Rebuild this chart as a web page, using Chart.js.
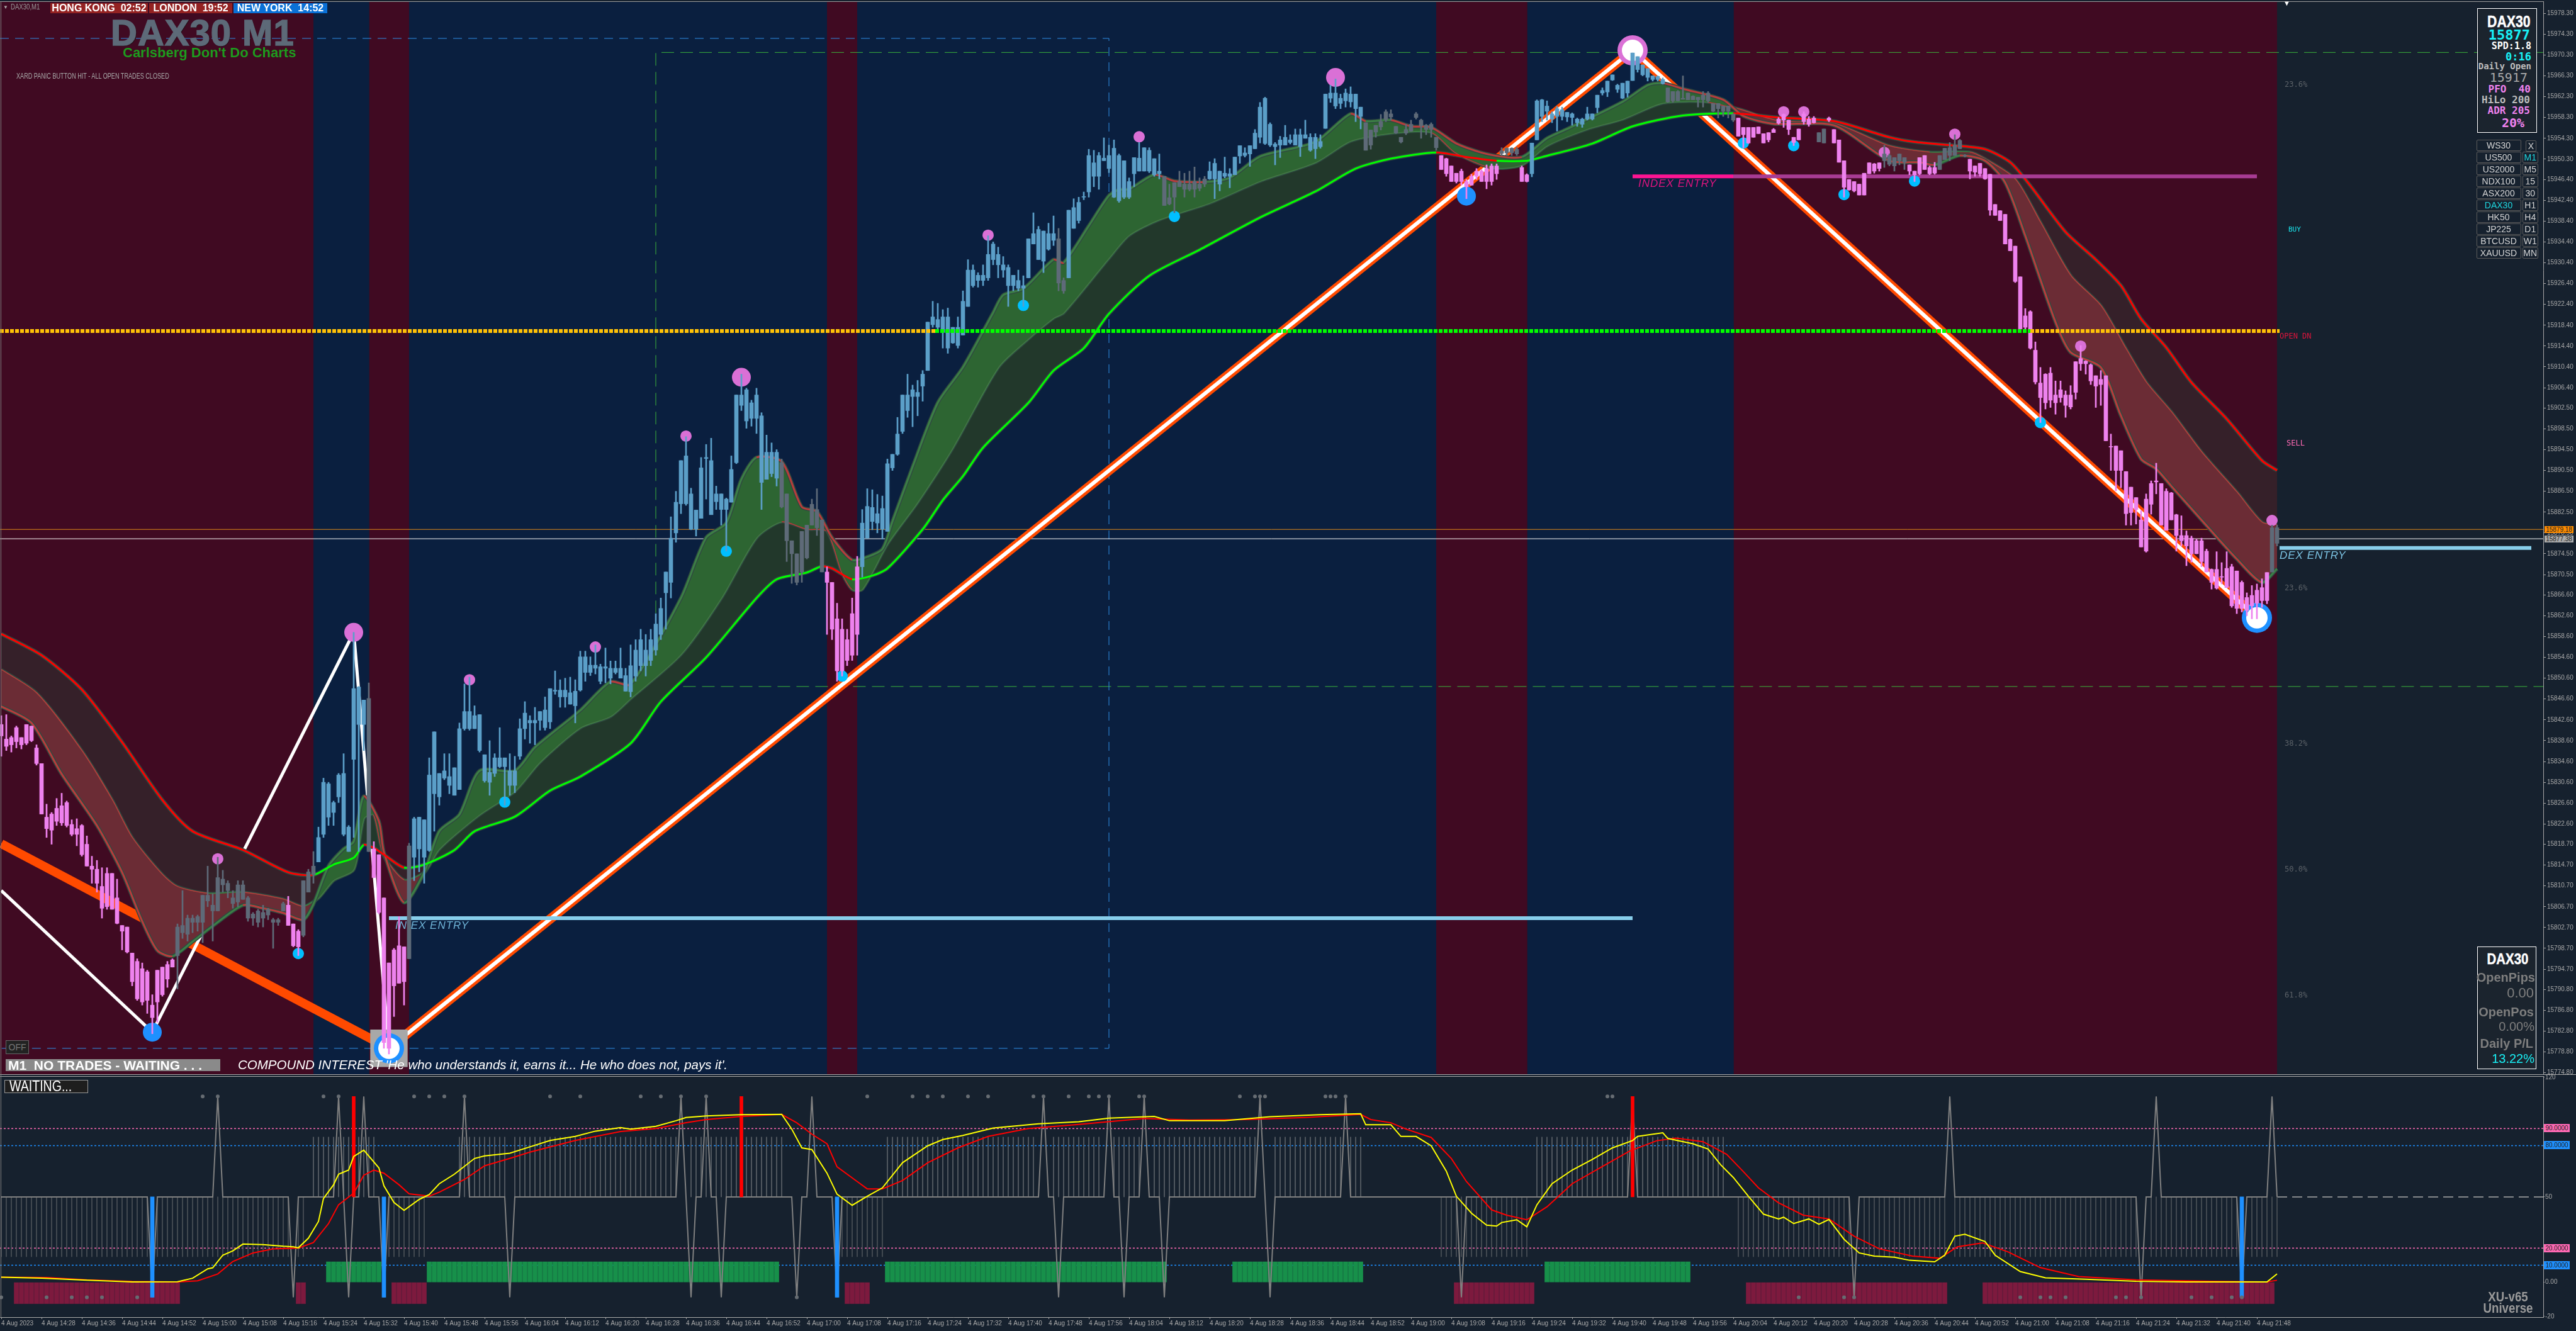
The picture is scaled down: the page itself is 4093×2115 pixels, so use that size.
<!DOCTYPE html>
<html>
<head>
<meta charset="utf-8">
<title>DAX30 M1</title>
<script src="https://cdn.jsdelivr.net/npm/chart.js@4"></script>
<style>
  html, body { margin: 0; width: 4093px; height: 2115px; background: #16212e; overflow: hidden; }
  canvas { position: absolute; left: 0; }
  #mainChart { top: 0; }
  #subChart { top: 1708px; }
  .t { position: absolute; white-space: nowrap; font-family: "Liberation Sans", sans-serif; line-height: 1; z-index: 5; }
  .mono { font-family: "DejaVu Sans Mono", monospace; font-weight: bold; text-align: right; }
  .narrow { font-family: "Liberation Sans", sans-serif; }
  .pct { font-family: "DejaVu Sans Mono", monospace; font-size: 12px; color: #5c6268; }
  .box { position: absolute; box-sizing: border-box; z-index: 4; }
  .btn { position: absolute; box-sizing: border-box; height: 18px; border: 1px solid #5c5c5c; border-radius: 2px; z-index: 5;
         color: #d4d4d4; font: 14px/16px "Liberation Sans", sans-serif; text-align: center; }
  .tag { position: absolute; left: 4042px; width: 41px; height: 13px; z-index: 5; color: #222; text-align: center;
         font: 10px/13px "Liberation Sans", sans-serif; }
</style>
</head>
<body>
<canvas id="mainChart" width="4093" height="1708"></canvas>
<canvas id="subChart" width="4093" height="407"></canvas>

<div class="box" style="left:0;top:2px;width:4042px;height:1px;background:#9a9a9a"></div>
<div class="box" style="left:0;top:1707px;width:4093px;height:1px;background:#a8a8a8"></div>
<div class="box" style="left:0;top:1710px;width:4042px;height:1px;background:#a8a8a8"></div>
<div class="box" style="left:1px;top:2px;width:1px;height:2092px;background:#7a7a7a"></div>

<!-- header -->
<div class="t" style="left:5px;top:8px;font-size:8px;color:#aaa">&#9660;</div>
<div class="t narrow" style="left:17px;top:5px;font-size:12px;color:#999;transform:scaleX(.8);transform-origin:left">DAX30,M1</div>
<div class="t narrow" style="left:80px;top:5px;width:155px;height:16px;background:#942222;color:#fff;font-weight:bold;font-size:16px;line-height:16px;text-align:center">HONG KONG&nbsp; 02:52</div>
<div class="t narrow" style="left:237px;top:5px;width:132px;height:16px;background:#942222;color:#fff;font-weight:bold;font-size:16px;line-height:16px;text-align:center">LONDON&nbsp; 19:52</div>
<div class="t narrow" style="left:371px;top:5px;width:149px;height:16px;background:#0a70d6;color:#fff;font-weight:bold;font-size:16px;line-height:16px;text-align:center">NEW YORK&nbsp; 14:52</div>
<div class="t" style="left:176px;top:23px;font-size:58px;font-weight:bold;letter-spacing:1px;color:#5d6a78;-webkit-text-stroke:1.5px #5d6a78;text-shadow:1px 1px 1px #111">DAX30 M1</div>
<div class="t" style="left:195px;top:73px;font-size:22px;font-weight:bold;color:#1e9c1e">Carlsberg Don't Do Charts</div>
<div class="t narrow" style="left:26px;top:114px;font-size:13px;color:#a8a8a8;transform:scaleX(.7);transform-origin:left">XARD PANIC BUTTON HIT - ALL OPEN TRADES CLOSED</div>
<div class="t" style="left:3628px;top:0;font-size:11px;color:#fff">&#9660;</div>

<!-- left bottom strip -->
<div class="t narrow" style="left:9px;top:1653px;width:37px;height:22px;background:#222;border:1px solid #666;box-sizing:border-box;color:#777;font-size:14px;line-height:20px;text-align:center">OFF</div>
<div class="t" style="left:9px;top:1683px;width:341px;height:19px;background:#8a8a8a;color:#fff;font-weight:bold;font-size:21px;line-height:19px;padding-left:4px;box-sizing:border-box">M1&nbsp; NO TRADES - WAITING . . .</div>
<div class="t" style="left:378px;top:1682px;font-size:20.5px;font-style:italic;color:#fff">COMPOUND INTEREST 'He who understands it, earns it... He who does not, pays it'.</div>

<!-- chart texts -->
<div class="t" style="left:628px;top:1462px;font-size:17px;font-style:italic;color:#6fb4d8;letter-spacing:1px">IN EX ENTRY</div>
<div class="t" style="left:2603px;top:283px;font-size:17px;font-style:italic;color:#e0147f;letter-spacing:1px">INDEX ENTRY</div>
<div class="t" style="left:3622px;top:874px;font-size:17px;font-style:italic;color:#7cc4e4;letter-spacing:1px">DEX ENTRY</div>
<div class="t pct" style="left:3630px;top:128px">23.6%</div>
<div class="t pct" style="left:3630px;top:928px">23.6%</div>
<div class="t pct" style="left:3630px;top:1175px">38.2%</div>
<div class="t pct" style="left:3630px;top:1375px">50.0%</div>
<div class="t pct" style="left:3630px;top:1575px">61.8%</div>
<div class="t mono" style="left:3636px;top:359px;font-size:11px;color:#19e6ee;font-weight:normal">BUY</div>
<div class="t mono" style="left:3622px;top:528px;font-size:12px;color:#dc143c;font-weight:normal">OPEN DN</div>
<div class="t mono" style="left:3633px;top:698px;font-size:12px;color:#ff69b4;font-weight:normal">SELL</div>

<!-- market info panel -->
<div class="box" style="left:3936px;top:13px;width:95px;height:198px;border:1px solid #fff;background:#1b242e"></div>
<div class="t narrow" style="right:72px;top:22px;font-size:25px;font-weight:bold;color:#fff;-webkit-text-stroke:.5px #fff;transform:scaleX(.85);transform-origin:right">DAX30</div>
<div class="t mono" style="right:73px;top:45px;font-size:22px;color:#19f0f5">15877</div>
<div class="t mono" style="right:71px;top:66px;font-size:15px;color:#fff">SPD:1.8</div>
<div class="t mono" style="right:71px;top:82px;font-size:17px;color:#19f0f5">0:16</div>
<div class="t mono" style="right:71px;top:98px;font-size:14px;color:#bdbdbd">Daily Open</div>
<div class="t mono" style="right:77px;top:113px;font-size:20px;color:#a9a9a9;font-weight:normal">15917</div>
<div class="t mono" style="right:72px;top:134px;font-size:16px;color:#ee82ee">PFO&nbsp; 40</div>
<div class="t mono" style="right:73px;top:151px;font-size:16px;color:#bdbdbd">HiLo 200</div>
<div class="t mono" style="right:73px;top:168px;font-size:16px;color:#ee82ee">ADR 205</div>
<div class="t mono" style="right:82px;top:185px;font-size:20px;color:#ee82ee">20%</div>

<!-- pnl panel -->
<div class="box" style="left:3936px;top:1504px;width:94px;height:195px;border:1px solid #fff;background:#1b242e"></div>
<div class="t narrow" style="right:76px;top:1512px;font-size:24px;font-weight:bold;color:#fff;-webkit-text-stroke:.5px #fff;transform:scaleX(.85);transform-origin:right">DAX30</div>
<div class="t narrow" style="right:65px;top:1543px;font-size:20px;font-weight:bold;color:#7e7e7e">OpenPips</div>
<div class="t narrow" style="right:67px;top:1567px;font-size:22px;color:#7e7e7e">0.00</div>
<div class="t narrow" style="right:67px;top:1598px;font-size:20px;font-weight:bold;color:#7e7e7e">OpenPos</div>
<div class="t narrow" style="right:66px;top:1621px;font-size:20px;color:#7e7e7e">0.00%</div>
<div class="t narrow" style="right:68px;top:1648px;font-size:20px;font-weight:bold;color:#7e7e7e">Daily P/L</div>
<div class="t narrow" style="right:66px;top:1672px;font-size:20px;color:#19f0f5">13.22%</div>

<!-- axis tags -->
<div class="tag" style="left:4043px;top:836px;width:46px;height:11px;line-height:11px;background:#ff8c00">15879.18</div>
<div class="tag" style="left:4043px;top:851px;width:46px;height:11px;line-height:11px;background:#aaaaaa">15877.38</div>
<div class="tag" style="top:1786px;background:#ff69b4">90.0000</div>
<div class="tag" style="top:1813px;background:#1e90ff">80.0000</div>
<div class="tag" style="top:1977px;background:#ff69b4">20.0000</div>
<div class="tag" style="top:2004px;background:#1e90ff">10.0000</div>

<!-- sub window texts -->
<div class="box" style="left:7px;top:1716px;width:133px;height:21px;background:#1e1e1e;border:1px solid #999"></div>
<div class="t narrow" style="left:15px;top:1717px;color:#fff;font-size:23px;line-height:19px;transform:scaleX(.85);transform-origin:left">WAITING...</div>
<div class="t narrow" style="left:3935px;width:100px;top:2050px;font-size:22px;font-weight:bold;color:#9a9a9a;text-align:center;transform:scaleX(.85)">XU-v65</div>
<div class="t narrow" style="left:3935px;width:100px;top:2068px;font-size:22px;font-weight:bold;color:#9a9a9a;text-align:center;transform:scaleX(.85)">Universe</div>

<script>
// price values below are points above this level
const priceBase = 15800;

// candles, one per minute from 14:20
const highs = [
  43.4,43.6,39.5,41.4,39.2,41.7,41.4,37.8,34.2,26.4, 24.8,27.5,28.5,27,23.4,23.6,22.5,20.3,16.4,15.6,
  14.2,14.2,13.1,12,3.1,2.8,-2.2,-3.3,-4.1,-5.5, -10.2,-5.5,-4.9,-3.8,-3.3,3.4,9.8,5.1,5.1,5.1,
  8.9,14.5,9.2,16.2,13.7,11.7,9.8,11.7,11.7,8.7, 5.6,6.2,7,6.4,4.5,4.5,7.6,8.7,3.4,2.3,
  11.7,13.9,17.3,22,31.4,30.6,27,32.3,36.1,22.3, 59.4,49,46.4,49.7,19.2,16.7,8.4,-4.1,-1.3,4.8,
  -1,18.9,23.9,23.9,23.4,35.3,40.3,32.3,36.1,36.1, 33.4,42,49.5,50.8,45.3,43.6,35.9,38.6,36.1,41.1,
  35.3,36.1,35.6,42.8,46.1,43.4,45,44.2,47,48.6, 52,50.3,50.6,50.8,50.3,55.8,55.8,54.7,57,53.3,
  56.4,53.9,53.9,56.4,52.5,57,58,60,59,60, 63,66,71,81.6,86.5,92.4,97,87.1,82.8,93,
  95.5,96.7,87.5,86,85.2,93.3,105,109,106.3,104, 106.3,101.6,97.3,95.8,94.5,92.7,86,77,74.5,78.8,
  80,85,87,81,72,69,65,62,60,66, 74,83,87,86.8,85.9,85.6,92.7,93.6,100.7,105,
  109,106.9,107.8,109.7,119,123,122.6,121.4,121.7,118, 120,125,131,130,128.5,130,135.6,134.4,133.4,131.6,
  130,128,129,127.9,135,140,137.4,136.5,138,139.4, 137,127.5,140.5,142.7,143,144,152.2,152,151.6,154.4,
  153,154,151.3,150,146.7,150.6,153.5,152.5,152.5,150.4, 151.3,147,145.5,145.8,148,147.6,148,148.8,146.7,147,
  149.8,150.4,148,150.7,148.5,150.7,152.9,152.5,152.9,156, 161.2,162.2,157.3,153.5,154.7,156.8,155,156.1,156.1,157.8,
  155.2,155.2,155,162.8,164.5,165.7,162.8,163.8,164.2,162.8, 160.3,157.3,155.9,156.8,158.9,159.8,159.8,156.6,154.5,157,
  157.8,159.3,158,157,157.3,154.5,151,150.5,149,147.6, 148.4,146.4,147.4,148.5,148.3,149.2,149.4,149.4,152.5,152.5,
  152.5,152.6,149,147.5,153.4,161.7,161.8,161.5,159.4,160.4, 160.3,159.3,159.2,158.2,158.2,160.3,159,162.6,164,165.3,
  166.5,164.7,164.9,165.3,170.7,170,168.4,167.7,166.3,166.3, 165.9,164,163.3,163.5,166.3,163,162.5,162.2,163.3,163.3,
  161,161,160.5,160.5,159,158.2,156.4,156.4,156.4,156.5, 155.2,155.4,156.2,158.3,159,157.8,154.5,156.1,159.4,158.5,
  158.5,155.4,156.1,158.4,156,154,150,146.4,146,145.5, 147.6,149.6,149.5,149.6,153,151.3,150.6,151.3,150.6,149.2,
  148,150.6,151,149,149.7,151,152.4,153.5,155,154.1, 151.2,150.3,149,149.5,148.5,147.4,141.6,140.4,139.7,135,
  133.6,127.7,121.6,121.2,115.2,110.3,109.1,110.3,107.7,107.7, 105.8,106.8,111.4,114.5,111.6,111,108.7,109.7,108.7,97.5,
  95.2,94.3,90.3,87.3,85.3,82.8,86,88.5,91.9,88, 87,86.3,82.1,81.8,78.9,77.9,77.3,77.5,75.4,71.6,
  74.9,72.8,74.9,72.5,71.2,69.3,67,68.4,68.7,69.7, 70.9,80,80
];
const lows = [
  35.6,36.7,36.4,37.2,37,37.8,38.4,33.9,24.5,20, 18.7,22.3,22.3,22,20.3,18.4,16.4,14.5,11.2,9.5,
  4.5,6.2,6.2,3.4,-1.6,-2.2,-8.5,-11.3,-12.2,-13.8, -17.7,-15.5,-10.5,-8.8,-4.9,-9.1,.6,.1,1.7,2,
  -.2,6.7,.1,5.9,9.5,8.4,6.4,6.7,8.1,3.9, 3.1,2.8,2.8,4.2,-1.3,3.1,5.9,3.1,-1,-2.7,
  .9,9.5,11.2,15.3,20,22.3,22.3,26.7,20.3,17.3, 20,17.3,36.7,17.3,12.3,5.3,-20.5,-21.6,-14.4,-8,
  -12.2,-3.3,11.7,13.4,11.2,17.3,21.2,26.2,31.1,28.4, 28.1,29.2,40.6,40.6,40.9,36.4,30.6,28.1,31.7,33.4,
  26.2,28.1,28.6,35,38.9,38.1,37.8,40.6,40.6,40.9, 47.5,45,45,45.6,42,48.1,50,51.1,51.4,49.5,
  49.7,49.5,51.4,51.4,48.1,47,50,52,51,53, 55,58,60,66,76.7,82.2,83.8,79.1,77.9,81.3,
  85,82.9,83,80,75,84.4,91.8,102,98.6,99, 97.6,83,88.8,89.3,87.5,83.3,73,68.8,68.5,69,
  73.5,80,78,71,59,58,50,51,53,54, 55,70,77.5,79.1,78.5,77.3,78.8,90.5,93.4,97.6,
  100.7,98.9,101,103.8,109.7,118,117,114,113,114.9, 114,116.5,122,125.7,125.7,126,127,130,127.5,127.6,
  122,125,125,122,127.5,134,131,128.5,132.8,133.7, 125,124.5,127.5,137,138,142.5,143,145,144.5,150,
  147.7,142.9,142,142.7,142.7,145,148,148,147.7,147, 146.5,141.4,141.5,140,145,143,144.2,143,144.2,145,
  146.4,142.7,144.2,146.7,144.8,147.3,149.5,150.7,148.9,152.3, 153.4,153.1,152.7,149.2,150.6,153,153.2,153,150.8,154.3,
  151.8,150.4,152.4,156.2,161.2,160,160,160.3,160.3,157.5, 156.1,152,152.2,154.5,155.9,157.5,157.8,155.2,153.4,155,
  155.6,158,154.3,155,154.5,152,148.3,147,146,145.7, 145.3,142.7,145.3,146.4,146,144.6,145.3,146.4,151,151,
  151,151,146,145.9,146.9,154,157.5,157.8,157.3,155.7, 157.8,157.5,156.8,156.6,156.4,157.8,157.8,159.2,162.6,162.3,
  165.4,163.1,161.9,162.2,165.4,167,166.3,165.3,165.3,165.3, 164.7,161.2,161.2,161.5,161.8,161.7,161.7,160.3,160.3,161.2,
  159.4,158.2,158.5,158.2,157.5,154.7,152.5,153.3,154.5,155.2, 153.4,153.6,155.4,157,156.4,155,152.9,154,157,156.6,
  157.2,153.6,153.4,157.5,153.4,149.7,143,144.3,144,143.4, 143.4,147.5,147.6,148,148.7,149,148,149.2,148.3,147.3,
  146,147.3,148.3,147.3,147.4,148.3,150.2,150,151,152.3, 150.7,146.5,147,147,146.4,139.5,139.5,138.5,134,132.7,
  126.6,117.7,117.3,113.8,107.1,99.7,102.3,102.6,101.3,103.6, 100.7,102.3,104.2,109.7,109,107,102.6,103,96.2,90.5,
  86.6,87.2,80,80,80.2,75.8,74.8,82.1,86,80, 79,81,75,76,72.2,72.9,74.5,72,71,67.7,
  67.7,68.7,68,64.2,63,63.3,62.6,62,62,64.2, 64.9,71,76
];
const bodyHigh = [
  41.7,38.9,39.2,41.1,39.2,41.7,41.4,37.2,34.2,23.9, 24.5,25.6,26.1,26.7,22.5,21.7,22.3,18.7,14.5,13.9,
  10.6,13.1,13.1,8.4,3.1,2.8,-2.2,-3.8,-5.2,-5.8, -12.2,-5.5,-4.9,-4.4,-3.5,2.8,3.1,4.5,4.5,4.8,
  8.9,8.9,7,12.3,12,11.2,8.4,10.9,10.9,8.4, 5.3,5.9,5.6,6.2,4.2,4.2,7.3,7,3.4,2,
  11.7,13.4,14.5,20,30.6,30.3,26.7,32,32.3,22, 48.6,48.9,46.4,46.7,17.8,16.7,8.4,-4.1,-1.6,-.8,
  -1,18.4,23.6,23.9,23.4,32,40.3,32.3,32.8,31.7, 33.4,40.9,44.2,44.2,43.4,43.6,35.9,32.5,35.3,35.3,
  35.3,32.8,32.8,40.9,43.9,42.5,42.5,44.2,44.5,48.6, 48.3,48.3,48.3,47.8,48.1,54.7,54.7,53.1,53.1,52.8,
  52.8,52.5,52.5,52.5,51.1,53,56,58,56,58, 61,64,71,77.5,84.4,92.4,93.3,86,82.9,91,
  93,92.4,86,86,85,90.7,105,105,106,103.5, 105,101,94,94,94,92,86,77,74.5,78.8,
  80,84,83,81,71,69,62,60,58,63, 72,80.4,83.6,83.4,82.2,83.2,91.8,93.6,97.5,105,
  105,106,105.5,109,119,120,119.5,120,120,118, 118,123,129,129,128,128,132,134,132,130,
  129.5,128,127,126,135,136,136.8,136.5,136,136, 135,127,140.5,141,142,143,151,149.6,151,150.5,
  151,152.4,151,150,146,150.6,150.5,152.5,152,150.4, 148,147,142.9,145.8,146,145.5,145.5,146,145.5,146.5,
  148,149.5,148,147.6,147.5,150.7,152.9,151.5,152.9,155.3, 160.3,162,157,153.2,154,154.5,154,155,155,155,
  154.5,154.5,153.7,162.8,163,163,162,163,162.8,162.8, 160.3,157.3,155.9,156.8,157.5,159.4,159,156.6,154.5,156,
  157,159,157.8,156.8,157,154.5,151,150.4,149,147.6, 148,146,147,148,148,148.5,149,149,151.9,152.4,
  152.4,152.2,148.7,147.3,153.4,161.5,161.7,160.5,159,160, 159.8,159.3,159,158,158,159,159,162.6,163.5,165.3,
  166.5,164.5,164.9,165.3,170.7,170,168.4,167.7,166.3,166.2, 165.6,164,163.3,163.3,162,163,162.4,162.2,162.6,163,
  161,161,160.5,160.5,159,158.2,156.4,156.4,156.4,156.5, 155.2,155.4,156,158,158.9,157.8,154.5,156.1,159,158,
  158.2,155.4,156.1,158.2,156,154,150,146.4,146,145.5, 147.6,149.6,149.4,149.6,151.3,151,150.6,151.3,150.6,149.2,
  148,150.6,151,148.7,148.7,151,152.4,152.5,153,153.9, 151,150.3,149,149.5,148.5,147.4,141.6,140.4,139.7,134.9,
  133.6,127.7,120.2,121,113.6,107.3,109,109.2,105,106, 105,105,111.4,112,111.5,110.8,108.7,108,108.7,95,
  95.2,94.3,90.3,87.3,85.3,81,85,88,88.5,88, 86.5,86.2,82,78,78,77.5,77,77,75,71.5,
  71.5,70,71.7,72,71.2,69,66.1,66.5,67.5,68, 70.9,79.5,79.5
];
const bodyLow = [
  39.5,37.5,37.8,38.4,37.8,38.1,38.6,34.2,24.5,21.7, 21.4,23.1,22.8,22.3,20.6,20.6,16.7,14.5,13.9,11.2,
  6.4,6.7,6.2,3.5,2,-2,-7.7,-11,-11.6,-11.3, -14.6,-11.6,-10.2,-7.2,-4.9,-2.7,1.7,1.4,3.7,3.7,
  3.7,7.8,5.9,5.9,10.9,9.8,7.3,7.6,8.1,4.5, 4.5,3.7,4.5,5.1,3.7,3.7,5.9,3.1,-.8,-1,
  1.2,9.5,12.8,15.3,20.6,23.9,24.8,27.8,20.6,17.3, 35,41.7,41.7,17.3,12.3,5.6,-19.4,-20.5,-8.5,-8,
  -7.7,-3.3,16.2,17.8,16.2,17.5,28.4,27.8,31.4,30, 28.1,29.2,40.9,40.9,40.9,36.7,30.9,30.6,32.3,33.6,
  33.6,30,30,35.6,40.9,42,42,42.5,41.1,42.2, 48.1,47,47,45.6,45.3,48.3,51.7,51.7,52.5,50,
  52.5,50.6,51.7,50.6,48.1,48,51,53,53,54, 56,59,67,69,78.5,84.1,84.1,79.2,79.2,81.3,
  92.8,82,84.5,83,83,84.4,92,103,100,100.5, 100.5,88.2,88.8,89.9,89,83.5,77,74.5,69,71,
  73.7,80,79.5,71,69,60,52,52,54,55, 59,72,77.5,80.7,80.4,79.2,78.8,91,93.6,98,
  102,104.7,104.7,106.7,109.7,118.5,118,117,114,115, 114.5,116.5,122,126,127,127,127.5,131,130,129,
  126,126,125.5,125.5,127.5,134,131,130.7,133,134.7, 126.5,125,127.5,137,138.5,143,144,147,147,150,
  148.5,143,142.3,143,143,147.5,148,148,148,147.3, 147.5,141.4,141.7,143,145,144.5,144.5,144.5,144.7,145.5,
  146.5,146.5,145.5,147,147,147.3,150.9,151,151.3,152.3, 154.5,153.3,153,152.7,153,153,153.5,153,152.7,154.3,
  152,152.3,152.7,156.2,162,160.5,161,161.5,161.3,160, 158.5,152,153,155.5,156.5,157.9,158.4,155.3,153.6,155.3,
  155.7,158.3,156.7,156,156,152.5,148.3,147.5,146,146, 146,145,145.3,147,146,146,146,147.5,151.4,151.5,
  151.5,151.3,146,146,147.5,154,158.5,159.5,158,158.5, 158.5,158.4,158.3,157.3,157,158,158,160.2,163,163.2,
  165.5,163.7,162,163,165.4,167.5,166.5,166,165.6,165.6, 164.8,161.3,161.5,161.5,161.8,161.7,161.7,161.7,161.7,161.5,
  159.5,160,159.5,159.5,157.8,154.7,155,153.4,154.5,155.2, 153.4,154,155.4,157.2,157.8,156,153.5,154,157.5,157,
  157.3,153.6,153.4,157.8,153.4,149.7,144.9,144.4,144.2,143.4, 143.4,147.5,148,148.5,150,149.3,149,150,149.7,148,
  147.3,147.5,148.3,147.5,147.6,148.3,150.2,151,151,152.3, 150.9,148,147.8,147.5,146.5,140.5,139.5,138.5,134,132.7,
  126.8,117.7,118,114,107.5,104.5,103.5,104,103.5,104.5, 103,102.7,105.5,111,111,107.7,106.7,107,96.2,95,
  90.5,90.5,82.2,82.4,83,75.8,75,84,88.3,80, 79,81,78,77,76,74.5,74.5,73,71,69,
  67.9,70,68,64.5,64,64,63.6,64.5,65,65.5, 65.5,71,76.5
];

// candle colour state, [first bar, last bar]
const pinkRuns = [[0,34],[57,59],[74,80],[164,170],[286,297],[302,303],[345,360],[363,373],[379,384],[391,450]];
const greyRuns = [[35,56],[60,62],[73,73],[81,81],[155,163],[210,211],[231,233],[234,239],[271,285],[298,301],[331,344],[361,362],[374,378],[385,390],[451,452]];

// moving average ribbon, read at knots [bar, points]
const outerBand = [[0,59.1],[8,55],[16,48.4],[24,38.3],[32,27.2],[38,21.2],[48,17.6],[57,13.3],[62,12.8],[66,14.8],[70,16.1],[72,18.6],[74,18],[76,16.7],[80,14.2],[84,14.8],[90,17.6],[94,21.2],[102,24],[109,29],[115,31.7],[125,38.1],[131,46.1],[140,54.6],[150,66],[154,69.6],[160,70.9],[163,72.1],[165,71.7],[169,69.6],[173,70.3],[176,71.7],[183,79.2],[187,84.8],[191,89.4],[195,94.9],[204,103.5],[209,109.7],[215,114],[220,120.6],[228,127.9],[238,132.9],[250,139.1],[261,144.1],[269,148.5],[276,150.4],[285,151.6],[291,150.7],[297,150],[303,150],[306,150.7],[316,153.3],[324,156.6],[334,158.7],[344,159.1],[353,158.3],[364,157.6],[375,154.5],[380,153.6],[388,152.9],[394,152.2],[399,149.7],[403,145.2],[410,136.3],[416,131],[421,126],[425,119.6],[430,114.1],[435,107.4],[442,100.4],[449,92.4],[452,90.5]];
const midBand = [[0,52.2],[7,47.7],[16,36.6],[22,27.2],[26,19.9],[32,12.8],[35,10.5],[41,9.2],[48,9.4],[56,8.1],[60,6.7],[63,8.4],[66,11.8],[70,13.9],[72,23.7],[74,24.4],[76,16.5],[80,11.8],[84,13.3],[87,17.8],[95,24.4],[102,28.9],[107,34.5],[115,41.1],[121,43.3],[125,46.7],[135,55.2],[143,66],[150,77.6],[155,80.7],[160,79.3],[164,78.9],[167,70.9],[169,67.7],[171,67.7],[176,76.4],[182,84.4],[189,94.9],[198,110.3],[204,115.8],[209,119.8],[211,120.8],[220,131.3],[224,135.7],[230,138.7],[240,141.9],[250,146.1],[261,149.7],[268,153.8],[276,155.3],[284,155.5],[289,151.5],[296,148.7],[302,149.2],[307,152.9],[315,156.1],[322,158],[330,161.1],[339,161.3],[345,159.9],[353,157.6],[364,157.1],[375,152.8],[383,151.6],[391,151.6],[394,150.3],[400,146.4],[405,138.1],[411,127.9],[417,122.1],[422,113.8],[426,107.4],[431,101.7],[437,94],[444,86.3],[449,80.5],[452,80]];
const innerBand = [[0,45.2],[6,42],[12,32.2],[19,22.3],[24,13.3],[28,3.9],[31,-1.7],[34,-2.8],[38,0],[42,3],[48,7],[52,6.4],[56,5.5],[60,4.2],[62,7.2],[65,14.5],[68,17.8],[70,19.2],[72,27.9],[75,23.1],[76,17.2],[80,7.5],[84,13.3],[87,21.2],[91,24.4],[95,32.8],[102,32.8],[106,37.3],[115,44.4],[121,49.9],[125,49.4],[135,66],[140,77.6],[144,80.4],[147,88.8],[150,93],[155,92.2],[159,83.5],[162,82.6],[165,77.6],[169,73.3],[172,73.9],[175,75.4],[177,80.7],[181,91.2],[186,103.5],[191,110.3],[197,120.8],[199,124.2],[203,125.4],[209,131],[211,130.4],[216,137.5],[220,143.3],[222,144.4],[224,144.5],[229,147.3],[233,146.1],[239,145.9],[244,146.7],[250,150.8],[261,153.6],[268,159],[271,157.6],[276,157.8],[280,156.6],[284,156.4],[289,153.3],[295,151.3],[302,150.7],[307,154.3],[311,156.1],[322,161.3],[327,164.5],[330,164.9],[334,163.8],[342,161.7],[346,158.6],[352,157.1],[364,156.8],[375,150],[381,149.7],[384,149.2],[389,151],[394,150],[398,145.8],[402,135.6],[408,119],[411,113.2],[417,110.3],[421,101],[425,92.7],[428,90.8],[431,87.5],[438,79.9],[444,73.5],[449,69],[452,71.6]];

// zigzags and drawn levels
const fatZigzag = [[0,18.8],[77,-20.5]];
const doubleZigzag = [[77,-20.5],[324,171.2],[448,62.2]];
const thinZigzag = [[0,9.8],[30,-17.4],[70,59.4],[77,-20.5]];
const blueBox = [[-0.25,173.5],[220,173.5],[220,-20.5],[-0.25,-20.5]];
const greenBox = [[504.875,170.8],[130,170.8],[130,49],[504.875,49]];
const dailyOpen = 117.3;
const dailyOpenGreen = [185.5,403];
const askPrice = 79.18;
const bidPrice = 77.38;
const entryBlueA = [[77,4.5],[324,4.5]];
const entryBlueB = [[452.5,75.6],[502.5,75.6]];
const entryPinkBright = [[324,147],[344,147]];
const entryPinkDim = [[344,147],[448,147]];

// swing markers [bar, points]
const pinkSmall = [[43,15.9],[93,50.3],[118,56.6],[136,97.1],[196,135.7],[226,154.6],[354,159.4],[358,159.4],[374,151.6],[388,155.1],[413,114.4],[451,80.9]];
const pinkBig = [[70,59.4],[147,108.4],[265,166]];
const cyanDots = [[59,-2.3],[100,26.8],[144,75],[167,51],[203,122.2],[233,139.3],[346,153.4],[356,152.9],[366,143.5],[380,146.1],[405,99.7]];
const blueBig = [[30,-17.4],[291,143.2]];
const blueRings = [[77,-20.5],[448,62.2]];
const pinkRings = [[324,171.2]];

// sessions: edges in bars, alternating
const sessionEdges = [-0.25,62,73.1,81,164,170,285,303.1,344.1,452];
const sessionFills = ['#400a22','#0a1f3f','#400a22','#0a1f3f','#400a22','#0a1f3f','#400a22','#0a1f3f','#400a22'];

const priceMin = 15774.52, priceMax = 15980.51;
const priceTicks = [15978.3,15974.3,15970.3,15966.3,15962.3,15958.3,15954.3,15950.3,15946.4,15942.4,15938.4,15934.4,15930.4,15926.4,15922.4,15918.4,15914.4,15910.4,15906.4,15902.5,15898.5,15894.5,15890.5,15886.5,15882.5,15878.5,15874.5,15870.5,15866.6,15862.6,15858.6,15854.6,15850.6,15846.6,15842.6,15838.6,15834.6,15830.6,15826.6,15822.6,15818.7,15814.7,15810.7,15806.7,15802.7,15798.7,15794.7,15790.8,15786.8,15782.8,15778.8,15774.8];
const timeLabels = ['4 Aug 2023','4 Aug 14:28','4 Aug 14:36','4 Aug 14:44','4 Aug 14:52','4 Aug 15:00','4 Aug 15:08','4 Aug 15:16','4 Aug 15:24','4 Aug 15:32','4 Aug 15:40','4 Aug 15:48','4 Aug 15:56','4 Aug 16:04','4 Aug 16:12','4 Aug 16:20','4 Aug 16:28','4 Aug 16:36','4 Aug 16:44','4 Aug 16:52','4 Aug 17:00','4 Aug 17:08','4 Aug 17:16','4 Aug 17:24','4 Aug 17:32','4 Aug 17:40','4 Aug 17:48','4 Aug 17:56','4 Aug 18:04','4 Aug 18:12','4 Aug 18:20','4 Aug 18:28','4 Aug 18:36','4 Aug 18:44','4 Aug 18:52','4 Aug 19:00','4 Aug 19:08','4 Aug 19:16','4 Aug 19:24','4 Aug 19:32','4 Aug 19:40','4 Aug 19:48','4 Aug 19:56','4 Aug 20:04','4 Aug 20:12','4 Aug 20:20','4 Aug 20:28','4 Aug 20:36','4 Aug 20:44','4 Aug 20:52','4 Aug 21:00','4 Aug 21:08','4 Aug 21:16','4 Aug 21:24','4 Aug 21:32','4 Aug 21:40','4 Aug 21:48'];

// oscillator window
const yellowLine = [[0,3],[8,2.4],[17,1.2],[26,.2],[35,.3],[38,2.4],[41,7.9],[42,8.5],[44,15.9],[46,18.4],[48,22.4],[52,22.1],[56,21.1],[58,20.8],[59,20.2],[61,25.8],[63,35.6],[64,49.1],[66,57.1],[67,63.3],[69,65.7],[70,73.7],[72,77.4],[75,67],[76,56.5],[78,46.7],[80,42.1],[83,48.5],[85,51.4],[87,57.7],[90,63.3],[94,72.5],[96,74],[101,75.6],[105,79.3],[109,83],[114,85.4],[118,88.5],[123,90.6],[125,89.7],[130,91.3],[134,94.6],[136,96.5],[140,97.4],[147,98.1],[155,98.3],[157,89.7],[159,78.7],[161,77.7],[164,63.9],[166,51.6],[169,45.1],[172,50.4],[175,55.3],[179,70],[184,79.9],[187,83.6],[191,86],[197,90.3],[206,92.8],[214,94],[220,96.1],[229,97.1],[232,94.6],[243,94.6],[252,96.9],[262,98.1],[270,98.7],[271,92.2],[276,92.2],[278,85.4],[281,85.4],[284,79.9],[287,65.1],[289,50.4],[292,40.5],[295,33.5],[297,32.9],[298,35],[301,36.6],[303,32.5],[305,45.4],[308,57.7],[312,65.7],[316,71.9],[320,78.7],[324,83],[325,85.4],[330,87.5],[331,84.2],[336,81.1],[339,78],[341.5,68.8],[344,61.4],[347,50.4],[350,39.9],[353,37.1],[354,38.1],[356,34.4],[359,37.1],[361,34],[363,36.8],[366,25.2],[369,17.2],[372,15.3],[376,14.7],[379,12.9],[384,12],[386,15.9],[388,27],[390,28.1],[394,23.9],[396,15.9],[401,6.3],[406,2.6],[414,1.8],[424,.6],[434,.2],[450,.2],[452,4.9]];
const redLine = [[0,3],[9,2.8],[17,1.4],[26,.5],[35,.2],[39,.9],[43,4.9],[46,12.2],[50,17.2],[54,19.6],[59,20],[62,23.3],[65,34.4],[67,45.4],[70,52.2],[72,62.7],[74,65.7],[76,63.9],[79,57.1],[81,51.8],[85,50.4],[87,52.8],[92,60.2],[96,68.2],[101,72.5],[105,76.2],[114,83],[123,88.3],[130,90],[136,93.4],[140,95.3],[147,97.1],[155,98.3],[158,93.4],[161,86.7],[164,81.1],[166,67.6],[170,59],[172,54.7],[175,54.7],[179,59.6],[184,70],[190,78.7],[196,85.4],[204,90],[214,92.4],[227,95.9],[236,95],[247,95.3],[259,96.5],[270,98.3],[272,95.3],[276,93.4],[279,89.7],[284,84.8],[288,72.5],[291,59],[296,42.4],[299,39.3],[303,36.6],[307,44.2],[312,57.7],[318.6,68.8],[323.4,76.8],[328.8,82.9],[332.6,84.4],[338,82.3],[342.7,74.9],[345.9,65.1],[349,55.3],[352.9,46.7],[357.9,39.3],[363,37.1],[368,27],[373,19.6],[379.6,15.3],[385,14.1],[388.5,20.8],[393.5,23.1],[398.6,17.8],[405,8.6],[412.6,3.4],[424,1.4],[439,.6],[450,.2],[452,1.2]];
const spikeUp = [43,67,72,92,135,140,161,207,220,227,250,267,324,387,428,451];
const spikeDown = [30,58,69,76,101,137,143,158,166,210,223,231,252,290,368,425,445];
const spikeHigh = 108.8;
const spikeLow = -8.8;
const redBars = [70,147,324];
const blueBars = [30,76,166,445];
const dotsTop = [40,43,64,67,82,85,88,92,109,115,127,131,135,140,172,181,184,187,192,196,205,207,212,216,218,220,226,227,246,249,250,251,263,264,265,267,319,320];
const dotsBottom = [0,9,14,17,20,27,158,357,366,368,401,405,407,410,420,422,425,435,439,443,445];
const histUpRuns = [[62,74],[91,100],[102,134],[137,155],[176,205],[209,218],[221,226],[229,249],[253,266],[268,270],[305,323],[325,342]];
const histDownRuns = [[0,29],[31,57],[59,60],[77,84],[167,175],[286,303],[345,367],[370,386],[388,424],[427,444],[447,452]];
const histUpLevel = 85;
const histDownLevel = 15;
const greenRuns = [[65,75],[85,154],[176,231],[245,270],[307,335]];
const maroonRuns = [[3,35],[59,60],[78,84],[168,172],[289,304],[347,386],[394,451]];
const blockUp = 12;
const blockDown = -12.5;
const levelsPink = [90,20];
const levelsBlue = [80,10];
const subTicks = [120,50,0,-20];
const subMid = 50;

const BLUE = '#5b9fc8', PINK = '#ee82ee', GREY = '#5e6a78';
const xMin = -0.25, xMax = 504.875;
const AXIS_FONT = { family: '"Liberation Sans",sans-serif', size: 10 };

const toPts = list => list.map(([x, y]) => ({ x, y: y + priceBase }));
const flat = v => [{ x: xMin, y: v + priceBase }, { x: xMax, y: v + priceBase }];
const inRuns = (i, runs) => runs.some(r => i >= r[0] && i <= r[1]);
const runBars = (runs, a, b) => {
  const out = [];
  runs.forEach(r => { for (let i = r[0]; i <= r[1]; i++) out.push({ x: i, y: [a, b] }); });
  return out;
};
// keep the plot area on fixed pixels, labels may stick out
const fixAxisWidth = s => { s.width = 52; s.paddingTop = 0; s.paddingBottom = 0; };
const fixAxisHeight = s => { s.height = 22; s.paddingLeft = 0; s.paddingRight = 0; };

function line(data, color, width, order, extra) {
  return Object.assign({ type: 'line', data, borderColor: color, borderWidth: width, pointRadius: 0, fill: false, order, borderCapStyle: 'butt' }, extra || {});
}
function dots(list, color, radius, order, extra) {
  return Object.assign({ type: 'line', data: toPts(list), showLine: false, pointRadius: radius, pointBackgroundColor: color, pointBorderWidth: 0, order, clip: false }, extra || {});
}

// paints the session stripes behind everything
const sessionPlugin = {
  id: 'sessions',
  beforeDatasetsDraw(chart) {
    const { ctx, chartArea, scales } = chart;
    sessionFills.forEach((c, k) => {
      const a = scales.x.getPixelForValue(sessionEdges[k]);
      const b = scales.x.getPixelForValue(sessionEdges[k + 1]);
      ctx.fillStyle = c;
      ctx.fillRect(a, chartArea.top, b - a, chartArea.bottom - chartArea.top);
    });
  }
};

const candleColors = highs.map((h, i) => inRuns(i, pinkRuns) ? PINK : inRuns(i, greyRuns) ? GREY : BLUE);
const slopeColor = (down, up) => ({ borderColor: c => c.p1.parsed.y < c.p0.parsed.y ? down : up });
const smooth = { tension: 0.25 };

const ds = [];
const midIdx = ds.length;
ds.push(line(toPts(midBand), '#b83c3c', 3, 11, Object.assign({ segment: slopeColor('#b83c3c', '#3c7f45') }, smooth)));
ds.push(line(toPts(midBand), '#2f4a40', 6, 12, smooth));
ds.push(line(toPts(innerBand), '#b83c3c', 3, 9, Object.assign({ segment: slopeColor('#b83c3c', '#3c7f45') }, smooth)));
ds.push(line(toPts(innerBand), '#2f4a40', 6, 10, Object.assign({ fill: { target: midIdx, above: '#2d6532', below: '#6b2c35' } }, smooth)));
ds.push(line(toPts(outerBand), '#ff0000', 3, 7, Object.assign({ segment: slopeColor('#ff0000', '#00ff00') }, smooth)));
ds.push(line(toPts(outerBand), '#2f4a40', 6, 13, Object.assign({ fill: { target: midIdx, above: '#352029', below: '#22382b' } }, smooth)));

ds.push(line(toPts(thinZigzag), '#ffffff', 5, 20));
ds.push(line(toPts(fatZigzag), '#ff4a00', 14, 21));
ds.push(line(toPts(doubleZigzag), '#ffffff', 6, 20));
ds.push(line(toPts(doubleZigzag), '#ff4a00', 15, 21));

ds.push(line(flat(askPrice), '#e08a1a', 1, 25));
ds.push(line(flat(bidPrice), '#ffffff', 1, 25));
ds.push(line(toPts(blueBox), '#2f8fe6', 1, 26, { borderDash: [14, 10] }));
ds.push(line(toPts(greenBox), '#3cb43c', 1, 26, { borderDash: [20, 10] }));

ds.push(line(toPts(entryBlueA), '#87ceeb', 6, 6));
ds.push(line(toPts(entryBlueB), '#87ceeb', 6, 6));
ds.push(line(toPts(entryPinkBright), '#ff1493', 6, 6));
ds.push(line(toPts(entryPinkDim), '#a83c94', 6, 6));

ds.push(line([{ x: xMin, y: dailyOpen + priceBase }, { x: dailyOpenGreen[0], y: dailyOpen + priceBase }], '#ffc107', 6, 0, { borderDash: [6, 2] }));
ds.push(line([{ x: dailyOpenGreen[0], y: dailyOpen + priceBase }, { x: dailyOpenGreen[1], y: dailyOpen + priceBase }], '#00ff00', 6, 0, { borderDash: [6, 2] }));
ds.push(line([{ x: dailyOpenGreen[1], y: dailyOpen + priceBase }, { x: 452.5, y: dailyOpen + priceBase }], '#ffc107', 6, 0, { borderDash: [6, 2] }));

ds.push({ type: 'bar', data: highs.map((h, i) => ({ x: i, y: [lows[i] + priceBase, h + priceBase] })), backgroundColor: candleColors, barThickness: 2, grouped: false, order: 2, minBarLength: 1 });
ds.push({ type: 'bar', data: bodyHigh.map((h, i) => ({ x: i, y: [bodyLow[i] + priceBase, h + priceBase] })), backgroundColor: candleColors, barThickness: 6, grouped: false, order: 1, minBarLength: 1 });

ds.push(dots(pinkSmall, '#da70d6', 9, 3));
ds.push(dots(pinkBig, '#da70d6', 15, 3));
ds.push(dots(cyanDots, '#00bfff', 9, 3));
ds.push(dots(blueBig, '#1e90ff', 15, 3));
ds.push(dots(blueRings, '#ffffff', 17, 3));
ds.push(dots(blueRings, '#1e90ff', 24, 4));
ds.push(dots([blueRings[0]], '#a8a8a8', 42, 5, { pointStyle: 'rect' }));
ds.push(dots(pinkRings, '#ffffff', 17, 3));
ds.push(dots(pinkRings, '#da70d6', 24, 4));

new Chart(document.getElementById('mainChart'), {
  type: 'bar',
  data: { datasets: ds },
  options: {
    responsive: false,
    animation: false,
    devicePixelRatio: 1,
    events: [],
    layout: { autoPadding: false, padding: { top: 3, bottom: 1, left: 0, right: 0 } },
    plugins: { legend: { display: false }, tooltip: { enabled: false } },
    scales: {
      x: { type: 'linear', min: xMin, max: xMax, offset: false, display: false, grid: { offset: false } },
      y: {
        position: 'right', min: priceMin, max: priceMax,
        afterFit: fixAxisWidth,
        afterBuildTicks: s => { s.ticks = priceTicks.map(value => ({ value })); },
        border: { color: '#a8a8a8', width: 1 },
        grid: { drawOnChartArea: false, tickLength: 4, tickColor: '#a8a8a8' },
        ticks: { autoSkip: false, padding: 2, color: '#a8a8a8', font: AXIS_FONT, callback: v => v.toFixed(2) }
      }
    }
  },
  plugins: [sessionPlugin]
});

// oscillator
const spikeSet = new Map();
spikeUp.forEach(i => spikeSet.set(i, spikeHigh));
spikeDown.forEach(i => spikeSet.set(i, spikeLow));
const spikeLine = highs.map((h, i) => ({ x: i, y: spikeSet.has(i) ? spikeSet.get(i) : subMid }));
const asPts = list => list.map(([x, y]) => ({ x, y }));
const subFlat = v => [{ x: xMin, y: v }, { x: xMax, y: v }];

const sub = [];
levelsPink.forEach(v => sub.push(line(subFlat(v), '#ff69b4', 1.5, 8, { borderDash: [3, 3] })));
levelsBlue.forEach(v => sub.push(line(subFlat(v), '#1e90ff', 1.5, 8, { borderDash: [3, 3] })));
sub.push(line([{ x: 452, y: subMid }, { x: xMax, y: subMid }], '#a8a8a8', 1.5, 8, { borderDash: [16, 8] }));
sub.push({ type: 'bar', data: runBars(histUpRuns, subMid, histUpLevel), backgroundColor: '#5c6268', barThickness: 1, grouped: false, order: 7 });
sub.push({ type: 'bar', data: runBars(histDownRuns, subMid, histDownLevel), backgroundColor: '#4c5258', barThickness: 1, grouped: false, order: 7 });
sub.push({ type: 'bar', data: runBars(greenRuns, 0, blockUp), backgroundColor: '#17904a', barThickness: 7, grouped: false, order: 6 });
sub.push({ type: 'bar', data: runBars(maroonRuns, 0, blockDown), backgroundColor: '#7d1a3e', barThickness: 7, grouped: false, order: 6 });
sub.push(line(spikeLine, '#808080', 2, 5));
sub.push({ type: 'bar', data: redBars.map(i => ({ x: i, y: [subMid, spikeHigh] })), backgroundColor: '#ff0000', barThickness: 5, grouped: false, order: 4 });
sub.push({ type: 'bar', data: blueBars.map(i => ({ x: i, y: [subMid, spikeLow] })), backgroundColor: '#1e90ff', barThickness: 6, grouped: false, order: 4 });
sub.push(line(asPts(redLine), '#ff0000', 2, 2));
sub.push(line(asPts(yellowLine), '#ffff00', 2, 1));
sub.push({ type: 'line', data: dotsTop.map(x => ({ x, y: spikeHigh })), showLine: false, pointRadius: 3, pointBackgroundColor: '#666c72', pointBorderWidth: 0, order: 3 });
sub.push({ type: 'line', data: dotsBottom.map(x => ({ x, y: spikeLow })), showLine: false, pointRadius: 3, pointBackgroundColor: '#666c72', pointBorderWidth: 0, order: 3 });

new Chart(document.getElementById('subChart'), {
  type: 'bar',
  data: { datasets: sub },
  options: {
    responsive: false,
    animation: false,
    devicePixelRatio: 1,
    events: [],
    layout: { autoPadding: false, padding: { top: 2, bottom: 0, left: 0, right: 0 } },
    plugins: { legend: { display: false }, tooltip: { enabled: false } },
    scales: {
      x: {
        type: 'linear', min: xMin, max: xMax, offset: false, position: 'bottom',
        afterFit: fixAxisHeight,
        afterBuildTicks: s => { s.ticks = timeLabels.map((t, k) => ({ value: k * 8 })); },
        border: { color: '#a8a8a8', width: 1 },
        grid: { drawOnChartArea: false, offset: false, tickLength: 3, tickColor: '#a8a8a8' },
        ticks: { autoSkip: false, maxRotation: 0, minRotation: 0, align: 'start', padding: 1, color: '#a8a8a8', font: AXIS_FONT, callback: (v, k) => timeLabels[k] }
      },
      y: {
        position: 'right', min: -20.4, max: 120.7,
        afterFit: fixAxisWidth,
        afterBuildTicks: s => { s.ticks = subTicks.map(value => ({ value })); },
        border: { color: '#a8a8a8', width: 1 },
        grid: { drawOnChartArea: false, tickLength: 2, tickColor: '#a8a8a8' },
        ticks: { autoSkip: false, padding: 1, color: '#a8a8a8', font: AXIS_FONT, callback: v => v === 0 ? '0.00' : String(v) }
      }
    }
  }
});

// symbol switcher
const symbols = ['WS30','US500','US2000','NDX100','ASX200','DAX30','HK50','JP225','BTCUSD','XAUUSD'];
const periods = ['X','M1','M5','15','30','H1','H4','D1','W1','MN'];
const addBtn = (text, left, top, width, active) => {
  const d = document.createElement('div');
  d.className = 'btn';
  d.style.cssText = 'left:' + left + 'px;top:' + top + 'px;width:' + width + 'px;' + (active ? 'color:#1fd8e0' : '');
  d.textContent = text;
  document.body.appendChild(d);
};
symbols.forEach((s, k) => addBtn(s, 3934.5, 222 + k * 19, 71, s === 'DAX30'));
periods.forEach((s, k) => k === 0 ? addBtn(s, 4013, 223, 17, false) : addBtn(s, 4007.5, 222 + k * 19, 25.5, s === 'M1'));
</script>
</body>
</html>
